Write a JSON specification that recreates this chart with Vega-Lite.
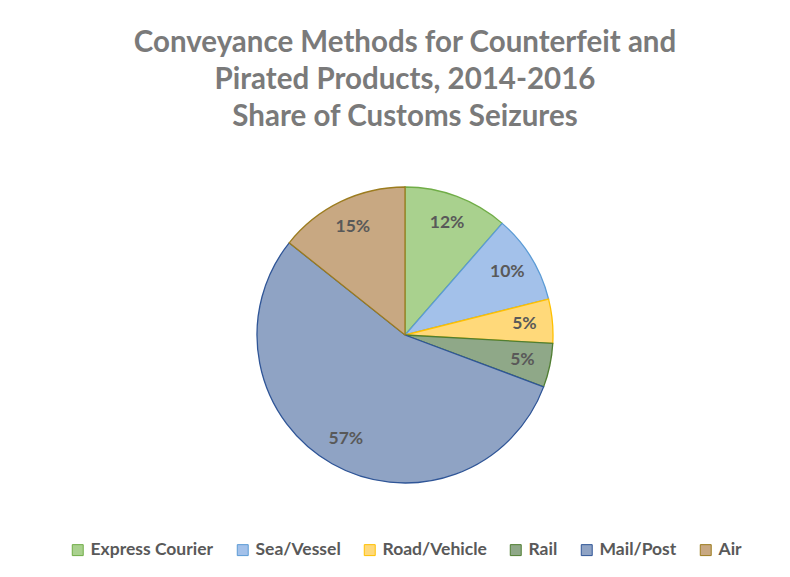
{
  "$schema": "https://vega.github.io/schema/vega-lite/v6.json",
  "width": 500,
  "height": 360,
  "autosize": "none",
  "padding": {"left": 155, "top": 155, "right": 135, "bottom": 62},
  "background": "white",
  "title": {
    "text": ["Conveyance Methods for Counterfeit and", "Pirated Products, 2014-2016", "Share of Customs Seizures"],
    "font": "Lato",
    "fontSize": 29.5,
    "fontWeight": "bold",
    "color": "#7a7a7a",
    "lineHeight": 37,
    "anchor": "middle",
    "offset": 23
  },
  "config": {
    "legend": {"layout": {"bottom": {"anchor": "middle"}}}
  },
  "data": {
    "values": [
      {"method": "Express Courier", "share": 11.4, "label": "12%", "order": 1},
      {"method": "Sea/Vessel", "share": 9.7, "label": "10%", "order": 2},
      {"method": "Road/Vehicle", "share": 4.8, "label": "5%", "order": 3},
      {"method": "Rail", "share": 4.8, "label": "5%", "order": 4},
      {"method": "Mail/Post", "share": 55.0, "label": "57%", "order": 5},
      {"method": "Air", "share": 14.3, "label": "15%", "order": 6}
    ]
  },
  "encoding": {
    "theta": {"field": "share", "type": "quantitative", "stack": true},
    "order": {"field": "order", "type": "quantitative"}
  },
  "layer": [
    {
      "mark": {"type": "arc", "outerRadius": 148, "strokeWidth": 1.3},
      "encoding": {
        "color": {
          "field": "method",
          "type": "nominal",
          "scale": {
            "domain": ["Express Courier", "Sea/Vessel", "Road/Vehicle", "Rail", "Mail/Post", "Air"],
            "range": ["#a9d18e", "#a3c1ea", "#ffd97a", "#8fa888", "#8fa3c4", "#c8a882"]
          },
          "legend": {
            "orient": "bottom",
            "direction": "horizontal",
            "title": null,
            "offset": 26,
            "symbolType": "square",
            "symbolSize": 120,
            "symbolStrokeWidth": 1,
            "labelFont": "Lato",
            "labelFontSize": 17.5,
            "labelFontWeight": "bold",
            "labelColor": "#595959",
            "columnPadding": 20,
            "labelOffset": 4
          }
        },
        "stroke": {
          "field": "method",
          "type": "nominal",
          "scale": {
            "domain": ["Express Courier", "Sea/Vessel", "Road/Vehicle", "Rail", "Mail/Post", "Air"],
            "range": ["#70ad47", "#5b9bd5", "#ffc000", "#507e32", "#2f5597", "#9c7c1f"]
          }
        }
      }
    },
    {
      "mark": {"type": "text", "radius": 120, "font": "Lato", "fontSize": 17.5, "fontWeight": "bold", "color": "#595959"},
      "encoding": {
        "text": {"field": "label", "type": "nominal"}
      }
    }
  ]
}
